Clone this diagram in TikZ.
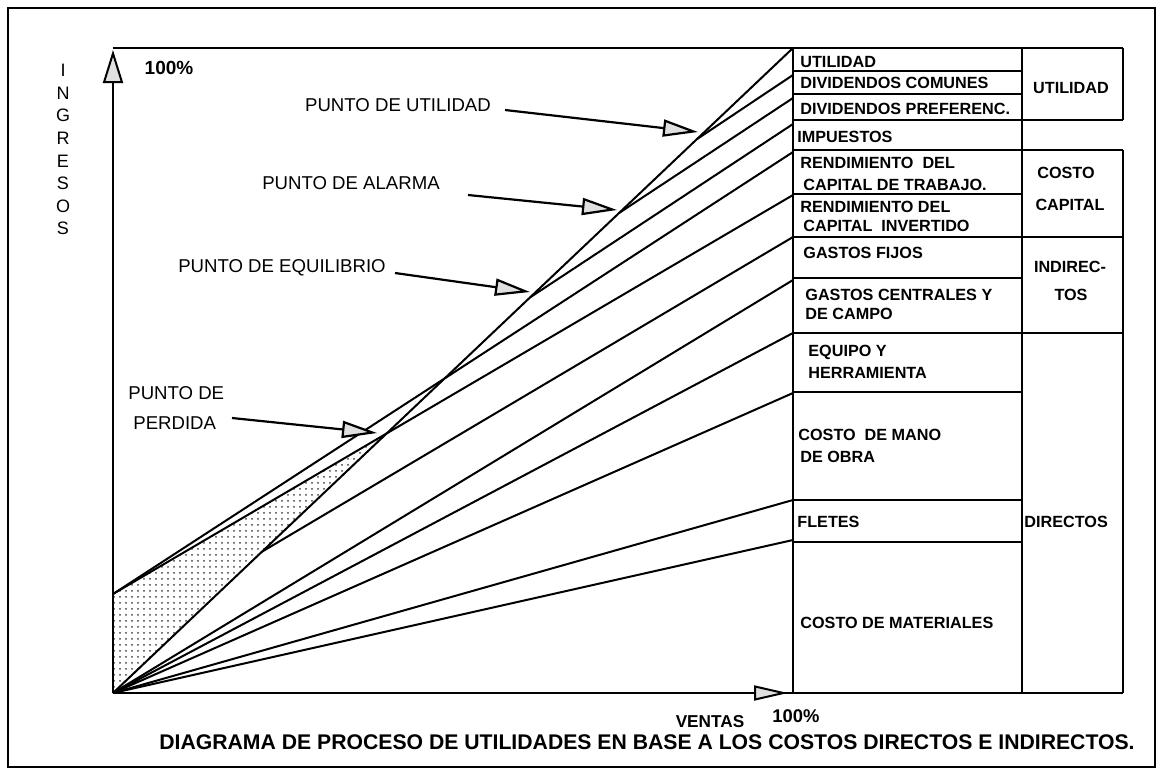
\documentclass[tikz,border=0pt]{standalone}
\usepackage{fontspec}
\setmainfont{Liberation Sans}
\usetikzlibrary{arrows.meta,patterns,calc}
\begin{document}
\begin{tikzpicture}[x=0.5pt,y=-0.5pt,
  lbl/.style={font=\fontsize{9.3}{11}\selectfont, inner sep=0pt},
  tbl/.style={font=\fontsize{8.1}{9.5}\selectfont\bfseries, anchor=west, inner sep=0pt, align=left},
  tblc/.style={font=\fontsize{8.1}{9.5}\selectfont\bfseries, inner sep=0pt, align=center},
  plotline/.style={line width=1pt},
  rule/.style={line width=1pt},
  callout/.style={line width=1.1pt, -{Triangle[length=17.5pt,width=8.5pt,fill=black!12]}},
  axistip/.style={line width=1pt, -{Triangle[length=16.5pt,width=10pt,fill=black!12]}},
  xaxistip/.style={line width=1pt, -{Triangle[length=17pt,width=7.5pt,fill=black!12]}}
]
\useasboundingbox (0,0) rectangle (1164,783);
% outer frame
\draw[rule] (8,8) rectangle (1155,767);

% key points
\coordinate (O) at (113,693);
\coordinate (Ytop) at (113,48);
\coordinate (FC) at (113,594);
\coordinate (E48) at (793,48);
\coordinate (E75) at (793,75);
\coordinate (E98) at (793,98);
\coordinate (E124) at (793,124);
\coordinate (E152) at (793,152);
\coordinate (E195) at (793,195);
\coordinate (E237) at (793,237);
\coordinate (E280) at (793,280);
\coordinate (E333) at (793,333);
\coordinate (E393) at (793,393);
\coordinate (E500) at (793,500);
\coordinate (E540) at (793,540);
\coordinate (BU) at ($(O)!0.8588!(E48)$);
\coordinate (BA) at ($(O)!0.7441!(E48)$);
\coordinate (BE) at ($(O)!0.6132!(E48)$);
\coordinate (B237) at ($(O)!0.2191!(E48)$);
\coordinate (PP) at (intersection of O--E48 and FC--E195);

% shaded loss area
\fill[pattern=dots, pattern color=black!75] (O) -- (FC) -- (PP) -- cycle;

% axes
\draw[axistip] (O) -- (113,50);
\draw[rule] (Ytop) -- (E48);
\draw[rule] (O) -- (1123,693);
\coordinate (Xtip) at (788,693);
\draw[xaxistip] (700,693) -- (Xtip);

% table
\draw[rule] (E48) -- (793,693);
\draw[rule] (1022,48) -- (1022,693);
\draw[rule] (E48) -- (1123,48);
\draw[rule] (1123,48) -- (1123,120);
\draw[rule] (1123,150) -- (1123,693);
\draw[rule] (793,71) -- (1022,71);
\draw[rule] (793,94) -- (1022,94);
\draw[rule] (793,120) -- (1123,120);
\draw[rule] (793,150) -- (1123,150);
\draw[rule] (793,194) -- (1022,194);
\draw[rule] (793,237) -- (1123,237);
\draw[rule] (793,278) -- (1022,278);
\draw[rule] (793,333) -- (1123,333);
\draw[rule] (793,392) -- (1022,392);
\draw[rule] (793,500) -- (1022,500);
\draw[rule] (793,542) -- (1022,542);

% plot lines
\draw[plotline] (O) -- (E48);
\draw[plotline] (BU) -- (E75);
\draw[plotline] (BA) -- (E98);
\draw[plotline] (BE) -- (E124);
\draw[plotline] (FC) -- (E152);
\draw[plotline] (FC) -- (E195);
\draw[plotline] (B237) -- (E237);
\draw[plotline] (O) -- (E280);
\draw[plotline] (O) -- (E333);
\draw[plotline] (O) -- (E393);
\draw[plotline] (O) -- (E500);
\draw[plotline] (O) -- (E540);

% axis labels
\node[font=\fontsize{9}{11.3}\selectfont, align=center, inner sep=0pt, anchor=north] (ing) at (63,64) {I\\N\\G\\R\\E\\S\\O\\S};
\node[font=\fontsize{9.5}{11}\selectfont\bfseries, inner sep=0pt] (y100) at (169,68) {100\%};
\node[font=\fontsize{8.6}{10}\selectfont\bfseries, inner sep=0pt] (ventas) at (710,722) {VENTAS};
\node[font=\fontsize{9.2}{10}\selectfont\bfseries, inner sep=0pt] (x100) at (796,716) {100\%};
\node[font=\fontsize{10.6}{12}\selectfont\bfseries, inner sep=0pt] (cap) at (647,742) {DIAGRAMA DE PROCESO DE UTILIDADES EN BASE A LOS COSTOS DIRECTOS E INDIRECTOS.};

% callouts
\node[lbl] (tU) at (398,105) {PUNTO DE UTILIDAD};
\node[lbl] (tA) at (351,183) {PUNTO DE ALARMA};
\node[lbl] (tE) at (282,268) {PUNTO DE EQUILIBRIO};
\node[lbl, anchor=west] (tP1) at (128,393) {PUNTO DE};
\node[lbl, anchor=west] (tP2) at (133,423) {PERDIDA};
\coordinate (aU1) at (505,110); \coordinate (aU2) at (698,132);
\coordinate (aA1) at (468,195); \coordinate (aA2) at (617,210);
\coordinate (aE1) at (395,273); \coordinate (aE2) at (530,292);
\coordinate (aP1) at (232,418); \coordinate (aP2) at (377,433);
\draw[callout] (aU1) -- (aU2);
\draw[callout] (aA1) -- (aA2);
\draw[callout] (aE1) -- (aE2);
\draw[callout] (aP1) -- (aP2);

% table texts, left column
\node[tbl] (r1) at (800,62) {UTILIDAD};
\node[tbl] (r2) at (800,83) {DIVIDENDOS COMUNES};
\node[tbl] (r3) at (800,109) {DIVIDENDOS PREFERENC.};
\node[tbl] (r4) at (797,137) {IMPUESTOS};
\node[tbl] (r5a) at (800,163) {RENDIMIENTO \ DEL};
\node[tbl] (r5b) at (803,185) {CAPITAL DE TRABAJO.};
\node[tbl] (r6a) at (800,207) {RENDIMIENTO DEL};
\node[tbl] (r6b) at (803,226) {CAPITAL \ INVERTIDO};
\node[tbl] (r7) at (803,253) {GASTOS FIJOS};
\node[tbl] (r8a) at (805,295) {GASTOS CENTRALES Y};
\node[tbl] (r8b) at (805,314) {DE CAMPO};
\node[tbl] (r9a) at (808,352) {EQUIPO Y};
\node[tbl] (r9b) at (808,373) {HERRAMIENTA};
\node[tbl] (r10a) at (798,435) {COSTO \ DE MANO};
\node[tbl] (r10b) at (800,457) {DE OBRA};
\node[tbl] (r11) at (797,522) {FLETES};
\node[tbl] (r12) at (800,623) {COSTO DE MATERIALES};

% table texts, right column
\node[tblc] (c1) at (1071,88) {UTILIDAD};
\node[tblc] (c2a) at (1066,173) {COSTO};
\node[tblc] (c2b) at (1070,205) {CAPITAL};
\node[tblc] (c3a) at (1070,267) {INDIREC-};
\node[tblc] (c3b) at (1071,295) {TOS};
\node[tbl] (c4) at (1024,522) {DIRECTOS};
\end{tikzpicture}
\end{document}
